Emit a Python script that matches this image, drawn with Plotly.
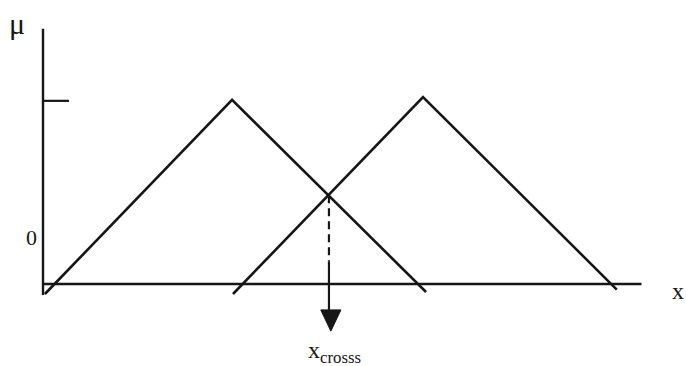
import plotly.graph_objects as go

# Membership functions (triangular): feet, peak; legs drawn slightly past zero as in the sketch
tri1_x = [0.1, 9.95, 20.16]
tri1_mu = [-0.054, 0.995, -0.043]
tri2_x = [10.0, 20.0, 30.2]
tri2_mu = [-0.054, 1.01, -0.03]

x_cross = 15.05
mu_cross = 0.48

axis_x_end = 31.5
axis_mu_top = 1.38
axis_mu_bottom = -0.06
tick_mu = 0.99
tick_len = 1.37

arrow_top = -0.14
arrow_tip = -0.255
arrow_half = 0.53

ink = "#161616"
fig = go.Figure()

# axes
fig.add_trace(go.Scatter(x=[0, 0], y=[axis_mu_bottom, axis_mu_top], mode="lines",
                         line=dict(color=ink, width=2.4), hoverinfo="skip"))
fig.add_trace(go.Scatter(x=[0, axis_x_end], y=[0, 0], mode="lines",
                         line=dict(color=ink, width=2.4), hoverinfo="skip"))
fig.add_trace(go.Scatter(x=[0, tick_len], y=[tick_mu, tick_mu], mode="lines",
                         line=dict(color=ink, width=2.2), hoverinfo="skip"))

# triangles
fig.add_trace(go.Scatter(x=tri1_x, y=tri1_mu, mode="lines",
                         line=dict(color=ink, width=2.6), hoverinfo="skip"))
fig.add_trace(go.Scatter(x=tri2_x, y=tri2_mu, mode="lines",
                         line=dict(color=ink, width=2.6), hoverinfo="skip"))

# dashed drop line from intersection
fig.add_trace(go.Scatter(x=[x_cross, x_cross], y=[mu_cross, 0.12], mode="lines",
                         line=dict(color=ink, width=2.2, dash="8px,5px"), hoverinfo="skip"))
fig.add_trace(go.Scatter(x=[x_cross, x_cross], y=[0.12, arrow_top], mode="lines",
                         line=dict(color=ink, width=2.2), hoverinfo="skip"))
# arrow head
fig.add_trace(go.Scatter(x=[x_cross + 0.1 - arrow_half, x_cross + 0.1 + arrow_half, x_cross + 0.1,
                            x_cross + 0.1 - arrow_half],
                         y=[arrow_top, arrow_top, arrow_tip, arrow_top],
                         mode="lines", fill="toself", fillcolor=ink,
                         line=dict(color=ink, width=1), hoverinfo="skip"))

serif = "Liberation Serif"
fig.add_annotation(x=-1.35, y=1.41, text="μ", showarrow=False,
                   font=dict(family=serif, size=30, color=ink))
fig.add_annotation(x=-0.6, y=0.25, text="0", showarrow=False,
                   font=dict(family=serif, size=22, color=ink))
fig.add_annotation(x=33.4, y=-0.04, text="x", showarrow=False,
                   font=dict(family=serif, size=24, color=ink))
fig.add_annotation(x=15.35, y=-0.37, text="x<sub>crosss</sub>", showarrow=False,
                   font=dict(family=serif, size=24, color=ink))

fig.update_layout(
    width=686, height=366,
    margin=dict(l=0, r=0, t=0, b=0),
    paper_bgcolor="white", plot_bgcolor="white",
    showlegend=False,
    xaxis=dict(range=[-43 / 19, (686 - 43) / 19], visible=False, fixedrange=True),
    yaxis=dict(range=[-82 / 185, 284 / 185], visible=False, fixedrange=True),
)

fig.write_html("out.html", config={"displayModeBar": False},
               post_script="document.body.style.margin='0';document.body.style.overflow='hidden';")
